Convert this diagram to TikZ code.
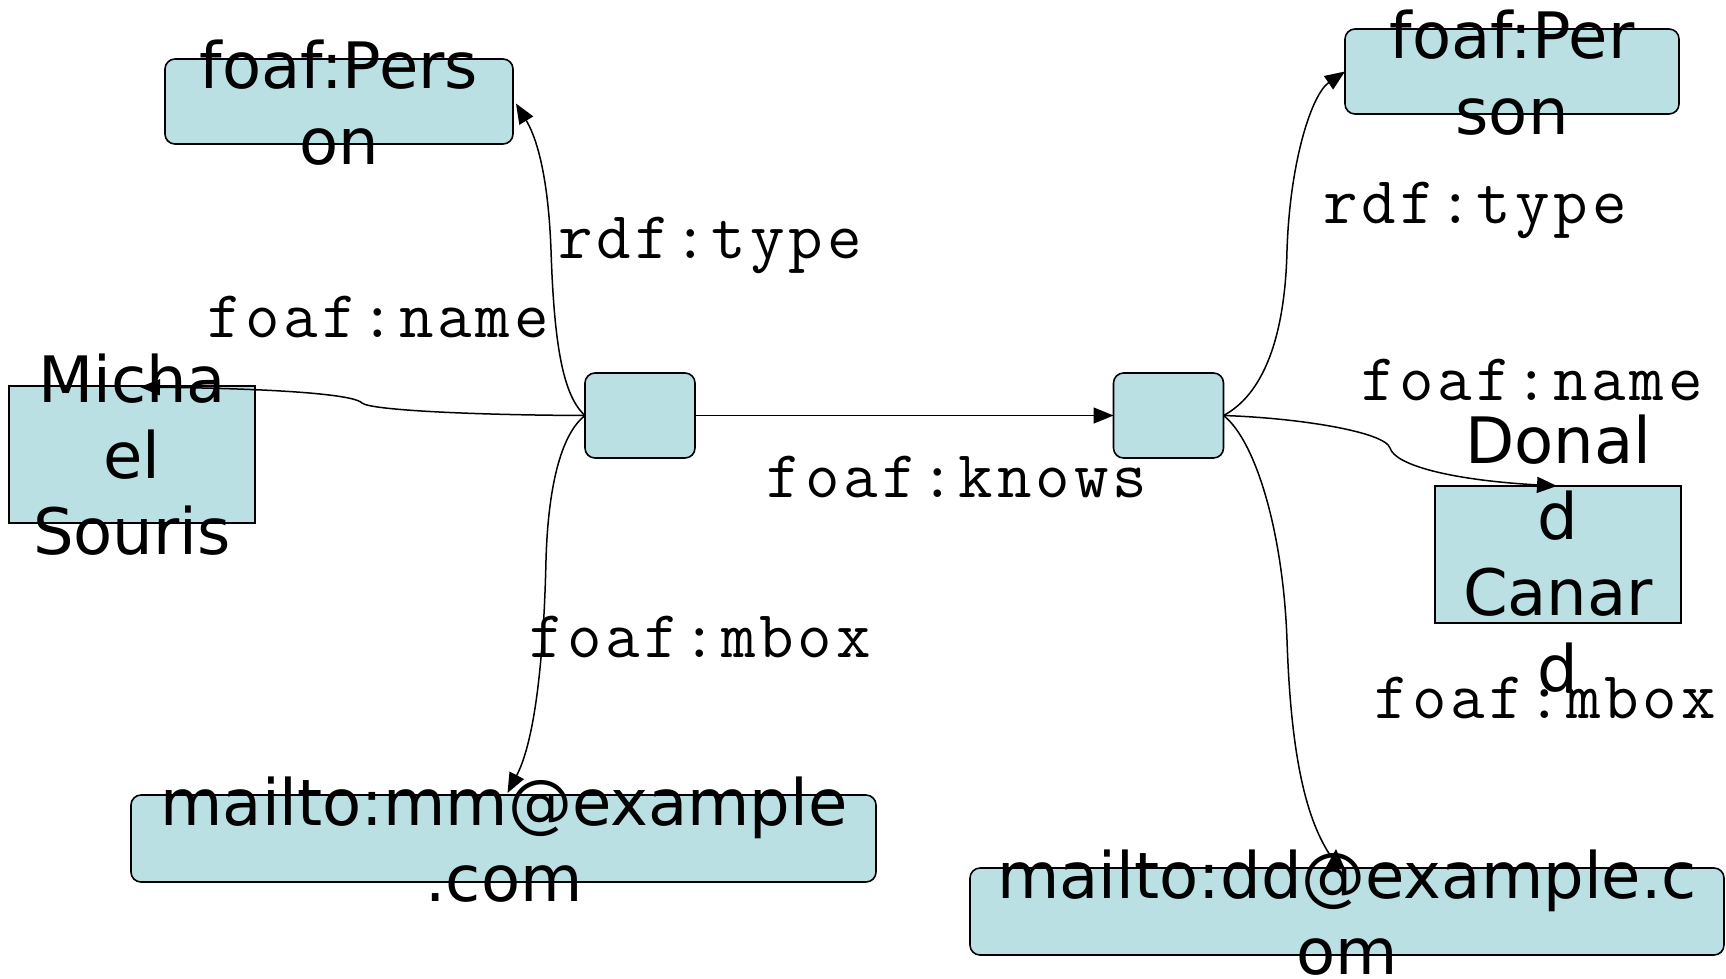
\documentclass[tikz,border=0pt]{standalone}
\usepackage{fontspec}
\setmainfont{DejaVu Sans}
\usetikzlibrary{arrows.meta,calc}
\definecolor{boxfill}{HTML}{BAE0E4}
\newcommand\mylbl[1]{\mylblx#1\relax}
\def\mylblx#1{\ifx#1\relax\else\makebox[38.4pt][c]{#1}\expandafter\mylblx\fi}
\begin{document}
\begin{tikzpicture}[x=1pt,y=-1pt,
  rbox/.style={draw=black, fill=boxfill, line width=1.6pt, rounded corners=10pt, inner sep=0pt, outer sep=0pt},
  sbox/.style={draw=black, fill=boxfill, line width=1.6pt, inner sep=0pt, outer sep=0pt},
  txt/.style={inner sep=0pt, anchor=base, font=\fontsize{64}{76}\selectfont},
  lbl/.style={inner sep=0pt, anchor=base, font=\ttfamily\fontsize{67}{76}\selectfont},
  conn/.style={line width=1.5pt, -{Triangle[length=20pt,width=16pt]}},
  connplain/.style={line width=1.5pt},
]
\fill[white] (0,0) rectangle (1726,978);
\useasboundingbox (0,0) rectangle (1726,978);

% boxes
\node[rbox, minimum width=348pt, minimum height=85pt] (p1) at (339,101.5) {};
\node[rbox, minimum width=110pt, minimum height=85pt] (b1) at (640,415.5) {};
\node[rbox, minimum width=110pt, minimum height=85pt] (b2) at (1168.5,415.5) {};
\node[rbox, minimum width=334pt, minimum height=85pt] (p2) at (1512,71.5) {};
\node[sbox, minimum width=246pt, minimum height=137pt] (mi) at (132,454.5) {};
\node[sbox, minimum width=246pt, minimum height=137pt] (do) at (1558,554.5) {};
\node[rbox, minimum width=745pt, minimum height=87pt] (mm) at (503.5,838.5) {};
\node[rbox, minimum width=754pt, minimum height=87pt] (dd) at (1347,911.5) {};

% edges
\draw[conn] (b1.east) -- (b2.west);
\draw[conn] (b1.west) .. controls (562,395) and (554,340) .. (551,250)
            .. controls (548,170) and (535,135) .. ($(p1.east)+(3,2)$);
\draw[conn] (b1.west) .. controls (470,415) and (370,410) .. (362,403)
            .. controls (356,396) and (300,389) .. ($(mi.north)+(8,1)$);
\draw[conn] (b1.west) .. controls (560,435) and (548,490) .. (546,560)
            .. controls (543,690) and (530,750) .. ($(mm.north)+(4,-2)$);
\draw[conn] (b2.east) .. controls (1262,395) and (1285,340) .. (1287,250)
            .. controls (1290,160) and (1312,94) .. (p2.west);
\draw[conn] (b2.east) .. controls (1300,418) and (1385,432) .. (1390,448)
            .. controls (1395,465) and (1450,480) .. ($(do.north)+(-1,0)$);
\coordinate (ddend) at ($(dd.north)+(-15,-10)$);
\draw[connplain] (b2.east) .. controls (1255,440) and (1283,530) .. (1287,640)
            .. controls (1291,760) and (1307,822) .. (ddend);
\fill ($(dd.north)+(-11,-19)$) -- ($(dd.north)+(-22,1)$) -- ($(dd.north)+(-2,1)$) -- cycle;

% edge labels
\node[lbl] (l1) at (710,258) {\mylbl{rdf:type}};
\node[lbl] (l2) at (378,337) {\mylbl{foaf:name}};
\node[lbl] (l3) at (957,497) {\mylbl{foaf:knows}};
\node[lbl] (l4) at (700,657) {\mylbl{foaf:mbox}};
\node[lbl] (l5) at (1475,223) {\mylbl{rdf:type}};
\node[lbl] (l6) at (1532,400) {\mylbl{foaf:name}};
\node[lbl] (l7) at (1545,718) {\mylbl{foaf:mbox}};

% node texts
\node[txt] (tp1) at (339,88) {\begin{tabular}[t]{@{}c@{}}foaf:Pers\\on\end{tabular}};
\node[txt] (tp2) at (1512,58) {\begin{tabular}[t]{@{}c@{}}foaf:Per\\son\end{tabular}};
\node[txt] (tmi) at (132,402) {\begin{tabular}[t]{@{}c@{}}Micha\\el\\Souris\end{tabular}};
\node[txt] (tdo) at (1558,463) {\begin{tabular}[t]{@{}c@{}}Donal\\d\\Canar\\d\end{tabular}};
\node[txt] (tmm) at (504,825) {\begin{tabular}[t]{@{}c@{}}mailto:mm@example\\.com\end{tabular}};
\node[txt] (tdd) at (1347,898) {\begin{tabular}[t]{@{}c@{}}mailto:dd@example.c\\om\end{tabular}};
\end{tikzpicture}
\end{document}
